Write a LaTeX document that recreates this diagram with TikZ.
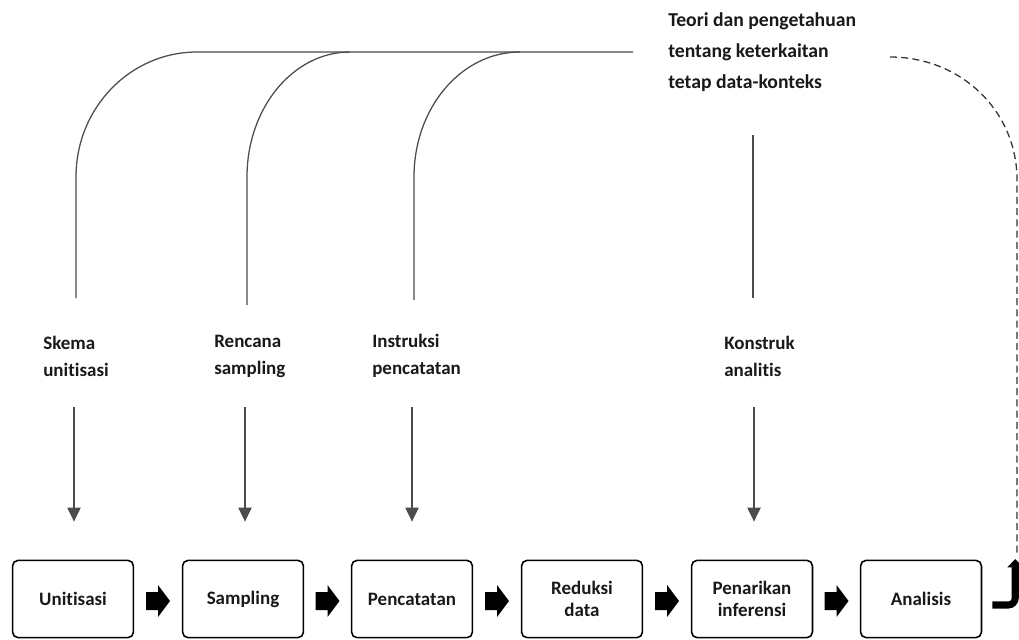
\documentclass[tikz,border=0pt]{standalone}
\usepackage{fontspec}
\setmainfont[Ligatures=NoCommon]{Carlito}
\usetikzlibrary{calc,arrows.meta}
\tikzset{
  proc/.style={draw,line width=1.1pt,rounded corners=4pt,minimum width=86pt,
    minimum height=55pt,align=center,text=black!90,
    font=\bfseries\fontsize{13.5}{15.6}\selectfont},
  lbl/.style={anchor=west,align=left,inner sep=0pt,text=black!90,
    font=\bfseries\fontsize{13.5}{19.2}\selectfont},
  wire/.style={draw=black!70,line width=0.9pt},
  feed/.style={wire,shorten >=27pt,-{Triangle[length=10pt,width=9.5pt]}},
}
\begin{document}
\begin{tikzpicture}[x=0.025cm,y=-0.025cm]
\useasboundingbox (0,0) rectangle (1019,639);
\clip (0,0) rectangle (1019,639);
\node[proc] (u) at (73,599) {Unitisasi};
\node[proc] (s) at (243,599) {Sampling};
\node[proc] (p) at (412,599) {Pencatatan};
\node[proc] (r) at (582,599) {Reduksi\\data};
\node[proc] (i) at (752,599) {Penarikan\\inferensi};
\node[proc] (an) at (921,599) {Analisis};
\node[lbl] (su) at (43,356) {Skema\\unitisasi};
\node[lbl] (rs) at (214,356) {Rencana\\sampling};
\node[lbl] (ip) at (372,356) {Instruksi\\pencatatan};
\node[lbl] (ka) at (724,356) {Konstruk\\analitis};
\node[lbl,font=\bfseries\fontsize{14}{22}\selectfont] (teori) at (668,52)
  {Teori dan pengetahuan\\tentang keterkaitan\\tetap data-konteks};
\coordinate (tu) at (74,407);
\coordinate (ts) at (245,407);
\coordinate (tp) at (412,407);
\coordinate (ti) at (754,407);
\draw[feed] (tu) -- (tu |- u.north);
\draw[feed] (ts) -- (ts |- s.north);
\draw[feed] (tp) -- (tp |- p.north);
\draw[feed] (ti) -- (ti |- i.north);
\coordinate (eu) at (76,298);
\coordinate (es) at (247,305);
\coordinate (ep) at (414,300);
\coordinate (h) at (633,52);
\draw[wire] (eu) -- (76,177) .. controls (76,108) and (130,52) .. (197,52) -- (h);
\draw[wire] (es) -- (247,177) .. controls (247,108) and (293,52) .. (350,52);
\draw[wire] (ep) -- (414,177) .. controls (414,108) and (461,52) .. (520,52);
\draw[wire] (753,135) -- (753,298);
\foreach \a/\b in {u/s,s/p,p/r,r/i,i/an}
  \fill ($(\a.east)!.5!(\b.west)$) ++(-12,-7) -- ++(12,0) -- ++(0,-7)
    -- ++(12,16) -- ++(-12,16) -- ++(0,-7) -- ++(-12,0) -- cycle;
\draw[line width=5pt,rounded corners=5pt,-{Triangle[length=6pt,width=11pt]}]
  ($(an.east)+(10,6)$) -- ++(23,0) -- ++(0,-46);
\coordinate (dstart) at (890,57);
\draw[black!80,line width=0.9pt,dash pattern=on 5pt off 3pt] (dstart)
  .. controls (960,57) and (1017,110) .. (1017,180) -- (1017,555);
\end{tikzpicture}
\end{document}
